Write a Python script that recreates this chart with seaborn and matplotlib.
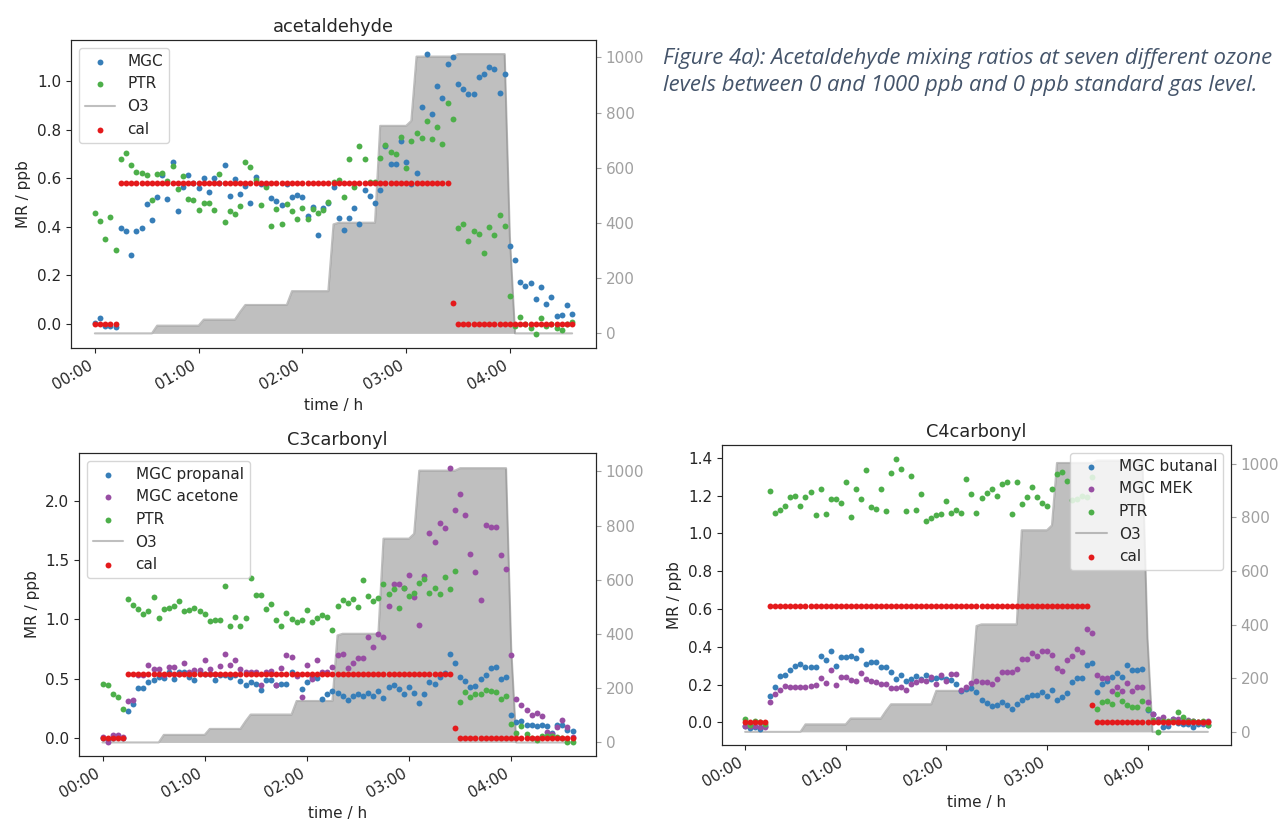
import numpy as np
import pandas as pd
import seaborn as sns
import matplotlib
matplotlib.use("Agg")
import matplotlib.pyplot as plt
import matplotlib.dates as mdates

sns.set_style("ticks")

# sampling grid: one value every 3 minutes, 00:00 .. 04:36
minutes = np.arange(0, 279, 3)
times = pd.Timestamp("2019-01-01 00:00") + pd.to_timedelta(minutes, unit="m")

# ozone steps (ppb), same run for all three panels
o3 = ([0] * 12 + [28] * 9 + [50] * 7 + [78] + [103] * 9 + [153] * 8 + [395]
      + [401] * 8 + [752] * 6 + [770] + [1003] * 8 + [1012] * 10 + [350] + [0] * 12)

# acetaldehyde
acet_mgc = [0.004, 0.025, -0.008, -0.008, -0.014, 0.396, 0.382, 0.283, 0.382, 0.396,
            0.493, 0.429, 0.521, 0.615, 0.516, 0.666, 0.466, 0.563, 0.615, 0.582,
            0.560, 0.603, 0.544, 0.603, 0.580, 0.654, 0.527, 0.596, 0.537, 0.566,
            0.496, 0.607, 0.575, 0.573, 0.519, 0.505, 0.488, 0.577, 0.521, 0.532,
            0.522, 0.446, 0.480, 0.364, 0.479, 0.496, 0.565, 0.435, 0.386, 0.437,
            0.479, 0.411, 0.552, 0.527, 0.496, 0.551, 0.732, 0.658, 0.658, 0.753,
            0.665, 0.576, 0.622, 0.893, 1.111, 0.865, 0.979, 0.930, 1.069, 1.098,
            0.988, 0.968, 0.946, 0.948, 1.019, 1.030, 1.059, 1.052, 0.952, 1.030,
            0.319, 0.261, 0.173, 0.155, 0.168, 0.103, 0.151, 0.081, 0.111, 0.030,
            0.038, 0.076, 0.040]
acet_ptr = [0.455, 0.423, 0.350, 0.440, 0.304, 0.681, 0.702, 0.654, 0.625, 0.621,
            0.615, 0.511, 0.618, 0.621, 0.589, 0.650, 0.555, 0.610, 0.514, 0.511,
            0.467, 0.496, 0.497, 0.470, 0.618, 0.419, 0.464, 0.452, 0.484, 0.668,
            0.647, 0.593, 0.490, 0.565, 0.405, 0.473, 0.413, 0.495, 0.466, 0.430,
            0.479, 0.433, 0.473, 0.457, 0.471, 0.503, 0.585, 0.593, 0.523, 0.680,
            0.562, 0.732, 0.681, 0.585, 0.585, 0.683, 0.738, 0.710, 0.699, 0.771,
            0.641, 0.753, 0.787, 0.765, 0.834, 0.760, 0.812, 0.740, 0.911, 0.843,
            0.394, 0.412, 0.341, 0.383, 0.370, 0.293, 0.397, 0.368, 0.448, 0.404,
            0.113, -0.008, 0.027, 0.000, -0.018, -0.041, 0.025, -0.008, 0.000, -0.019,
            -0.027, 0.000, 0.007]
acet_cal = [0.0] * 5 + [0.58] * 64 + [0.087] + [0.0] * 23

# C3 carbonyls
c3_propanal = [0.000, -0.005, 0.000, 0.005, 0.000, 0.232, 0.289, 0.423, 0.423, 0.471,
               0.487, 0.518, 0.507, 0.557, 0.501, 0.555, 0.552, 0.515, 0.487, 0.557,
               0.543, 0.541, 0.485, 0.527, 0.527, 0.518, 0.535, 0.479, 0.445, 0.473,
               0.451, 0.403, 0.487, 0.490, 0.445, 0.451, 0.454, 0.557, 0.535, 0.417,
               0.473, 0.510, 0.507, 0.328, 0.367, 0.398, 0.381, 0.353, 0.319, 0.350,
               0.373, 0.353, 0.381, 0.353, 0.398, 0.336, 0.429, 0.448, 0.412, 0.367,
               0.434, 0.381, 0.294, 0.373, 0.476, 0.454, 0.513, 0.546, 0.711, 0.636,
               0.518, 0.482, 0.431, 0.440, 0.499, 0.527, 0.591, 0.602, 0.501, 0.513,
               0.190, 0.134, 0.146, 0.109, 0.106, 0.101, 0.106, 0.098, 0.045, 0.109,
               0.109, 0.070, 0.062]
c3_acetone = [0.008, -0.030, 0.025, 0.025, 0.008, 0.311, 0.319, 0.530, 0.535, 0.613,
              0.585, 0.580, 0.532, 0.602, 0.599, 0.541, 0.630, 0.552, 0.574, 0.571,
              0.661, 0.580, 0.541, 0.608, 0.706, 0.619, 0.658, 0.583, 0.557, 0.560,
              0.555, 0.443, 0.555, 0.566, 0.450, 0.591, 0.697, 0.686, 0.524, 0.342,
              0.616, 0.500, 0.658, 0.555, 0.557, 0.602, 0.703, 0.706, 0.588, 0.630,
              0.675, 0.675, 0.854, 0.770, 0.874, 0.854, 1.109, 1.294, 1.294, 1.260,
              1.375, 1.185, 0.955, 1.361, 1.723, 1.650, 1.810, 1.770, 2.277, 1.922,
              2.056, 1.877, 1.552, 1.401, 1.162, 1.796, 1.779, 1.779, 1.541, 1.420,
              0.697, 0.331, 0.275, 0.238, 0.193, 0.213, 0.188, 0.053, 0.036, 0.092,
              0.151, 0.090, 0.008]
c3_ptr = [0.459, 0.443, 0.373, 0.342, 0.246, 1.174, 1.120, 1.087, 1.048, 1.073,
          1.185, 1.011, 1.087, 1.095, 1.115, 1.154, 1.073, 1.078, 1.092, 1.070,
          1.045, 0.983, 0.994, 0.994, 1.283, 0.941, 1.020, 0.947, 1.014, 1.350,
          1.204, 1.204, 1.087, 1.132, 0.994, 0.947, 1.056, 1.000, 0.975, 0.994,
          1.078, 0.978, 1.011, 1.036, 1.017, 0.910, 1.112, 1.160, 1.140, 1.171,
          1.106, 1.333, 1.196, 1.151, 1.176, 1.300, 1.210, 1.258, 1.098, 1.266,
          1.199, 1.218, 1.308, 1.339, 1.218, 1.263, 1.216, 1.353, 1.258, 1.409,
          0.300, 0.384, 0.345, 0.373, 0.373, 0.406, 0.398, 0.392, 0.333, 0.353,
          0.120, 0.045, 0.098, 0.031, -0.003, -0.020, 0.014, 0.014, 0.014, 0.008,
          -0.003, -0.034, -0.036]
c3_cal = [0.0] * 5 + [0.538] * 64 + [0.081] + [0.0] * 23

# C4 carbonyls
c4_butanal = [-0.021, -0.030, -0.026, -0.034, -0.016, 0.138, 0.187, 0.245, 0.252, 0.275,
              0.300, 0.309, 0.295, 0.295, 0.295, 0.351, 0.332, 0.376, 0.298, 0.346,
              0.346, 0.353, 0.341, 0.383, 0.309, 0.320, 0.320, 0.293, 0.293, 0.265,
              0.231, 0.251, 0.219, 0.228, 0.247, 0.231, 0.252, 0.231, 0.235, 0.240,
              0.228, 0.226, 0.203, 0.169, 0.177, 0.180, 0.159, 0.120, 0.102, 0.088,
              0.094, 0.106, 0.090, 0.072, 0.097, 0.117, 0.134, 0.145, 0.145, 0.159,
              0.138, 0.173, 0.118, 0.136, 0.155, 0.212, 0.233, 0.235, 0.304, 0.316,
              0.161, 0.205, 0.220, 0.240, 0.259, 0.238, 0.302, 0.279, 0.279, 0.284,
              0.067, 0.044, 0.009, -0.023, -0.021, 0.018, -0.002, -0.009, -0.009, -0.023,
              -0.009, -0.007, -0.012]
c4_mek = [-0.016, -0.021, -0.016, -0.023, -0.023, 0.108, 0.148, 0.171, 0.194, 0.187,
          0.187, 0.187, 0.187, 0.194, 0.199, 0.235, 0.208, 0.279, 0.198, 0.242,
          0.238, 0.222, 0.217, 0.259, 0.228, 0.219, 0.212, 0.203, 0.203, 0.182,
          0.182, 0.187, 0.173, 0.203, 0.212, 0.224, 0.219, 0.242, 0.203, 0.251,
          0.217, 0.254, 0.256, 0.173, 0.185, 0.208, 0.217, 0.215, 0.212, 0.203,
          0.231, 0.267, 0.265, 0.265, 0.282, 0.337, 0.337, 0.365, 0.351, 0.376,
          0.376, 0.355, 0.286, 0.274, 0.332, 0.350, 0.387, 0.371, 0.494, 0.475,
          0.249, 0.233, 0.233, 0.168, 0.185, 0.168, 0.207, 0.168, 0.189, 0.185,
          0.110, 0.044, 0.018, 0.030, -0.004, 0.021, 0.021, 0.009, 0.014, 0.009,
          0.002, -0.005, 0.007]
c4_ptr = [0.018, -0.012, 0.009, 0.004, -0.007, 1.225, 1.110, 1.124, 1.142, 1.190,
          1.199, 1.144, 1.190, 1.216, 1.098, 1.236, 1.100, 1.184, 1.184, 1.163,
          1.274, 1.087, 1.232, 1.183, 1.335, 1.140, 1.128, 1.232, 1.117, 1.317,
          1.391, 1.340, 1.116, 1.301, 1.123, 1.206, 1.066, 1.080, 1.096, 1.101,
          1.169, 1.110, 1.126, 1.107, 1.285, 1.206, 1.107, 1.188, 1.213, 1.236,
          1.197, 1.259, 1.269, 1.100, 1.271, 1.154, 1.192, 1.246, 1.190, 1.162,
          1.144, 1.237, 1.315, 1.326, 1.276, 1.176, 1.183, 1.200, 1.192, 1.297,
          0.071, 0.106, 0.113, 0.100, 0.152, 0.115, 0.094, 0.083, 0.083, 0.111,
          0.072, 0.014, -0.049, 0.009, 0.009, 0.009, 0.055, 0.030, 0.007, 0.007,
          0.002, 0.007, -0.012]
c4_cal = [0.0] * 5 + [0.614] * 64 + [0.094] + [0.0] * 23

pal = sns.color_palette("Set1")
RED, BLUE, GREEN, PURPLE = pal[0], pal[1], pal[2], pal[3]
FS = 11


def panel(rect, title, series, cal, ylim, o3lim, legend_loc):
    ax = fig.add_axes(rect)
    ax2 = ax.twinx()
    # ozone as grey filled steps on the right axis
    ax2.fill_between(times, o3, color="grey", alpha=0.5, linewidth=0)
    sns.lineplot(x=times, y=o3, ax=ax2, color="grey", alpha=0.5, linewidth=1.5,
                 label="O3", legend=False)
    ax2.set_ylim(*o3lim)
    ax2.set_ylabel("")
    ax2.tick_params(axis="y", colors="#a0a0a0", labelsize=FS)
    ax2.set_yticks([0, 200, 400, 600, 800, 1000])

    for lab, vals, col in series:
        sns.scatterplot(x=times, y=vals, ax=ax, color=col, s=18, linewidth=0,
                        label=lab, legend=False)
    sns.scatterplot(x=times, y=cal, ax=ax, color=RED, s=18, linewidth=0,
                    label="cal", legend=False)

    ax.set_zorder(ax2.get_zorder() + 1)
    ax.patch.set_visible(False)
    ax.set_ylim(*ylim)
    ax.set_xlim(times[0] - pd.Timedelta(minutes=13.8), times[-1] + pd.Timedelta(minutes=13.8))
    ax.xaxis.set_major_locator(mdates.HourLocator())
    ax.xaxis.set_major_formatter(mdates.DateFormatter("%H:%M"))
    ax.tick_params(labelsize=FS)
    for lbl in ax.get_xticklabels():
        lbl.set_rotation(30)
        lbl.set_ha("right")
    ax.set_xlabel("time / h", fontsize=FS)
    ax.set_ylabel("MR / ppb", fontsize=FS)
    ax.set_title(title, fontsize=12.8)

    h1, l1 = ax.get_legend_handles_labels()
    h2, l2 = ax2.get_legend_handles_labels()
    handles = h1[:-1] + h2 + h1[-1:]
    labels = l1[:-1] + l2 + l1[-1:]
    ax.legend(handles, labels, loc=legend_loc, fontsize=FS)
    return ax


W, H = 1283, 821
fig = plt.figure(figsize=(W / 100, H / 100), dpi=100)


def px(left, top, right, bottom):
    return [left / W, 1 - bottom / H, (right - left) / W, (bottom - top) / H]


panel(px(71, 40, 596, 348), "acetaldehyde",
      [("MGC", acet_mgc, BLUE), ("PTR", acet_ptr, GREEN)],
      acet_cal, (-0.10, 1.17), (-53, 1063), "upper left")
panel(px(79, 453, 596, 756), "C3carbonyl",
      [("MGC propanal", c3_propanal, BLUE), ("MGC acetone", c3_acetone, PURPLE),
       ("PTR", c3_ptr, GREEN)],
      c3_cal, (-0.151, 2.40), (-50, 1068), "upper left")
panel(px(722, 445, 1231, 745), "C4carbonyl",
      [("MGC butanal", c4_butanal, BLUE), ("MGC MEK", c4_mek, PURPLE),
       ("PTR", c4_ptr, GREEN)],
      c4_cal, (-0.119, 1.467), (-49, 1070), "upper right")

fig.text(663 / W, 1 - 48 / H,
         "Figure 4a): Acetaldehyde mixing ratios at seven different ozone\n"
         "levels between 0 and 1000 ppb and 0 ppb standard gas level.",
         ha="left", va="top", fontsize=15.9, style="italic", color="#44546a",
         family="Open Sans", linespacing=1.37)

fig.savefig("out.png", dpi=100)
